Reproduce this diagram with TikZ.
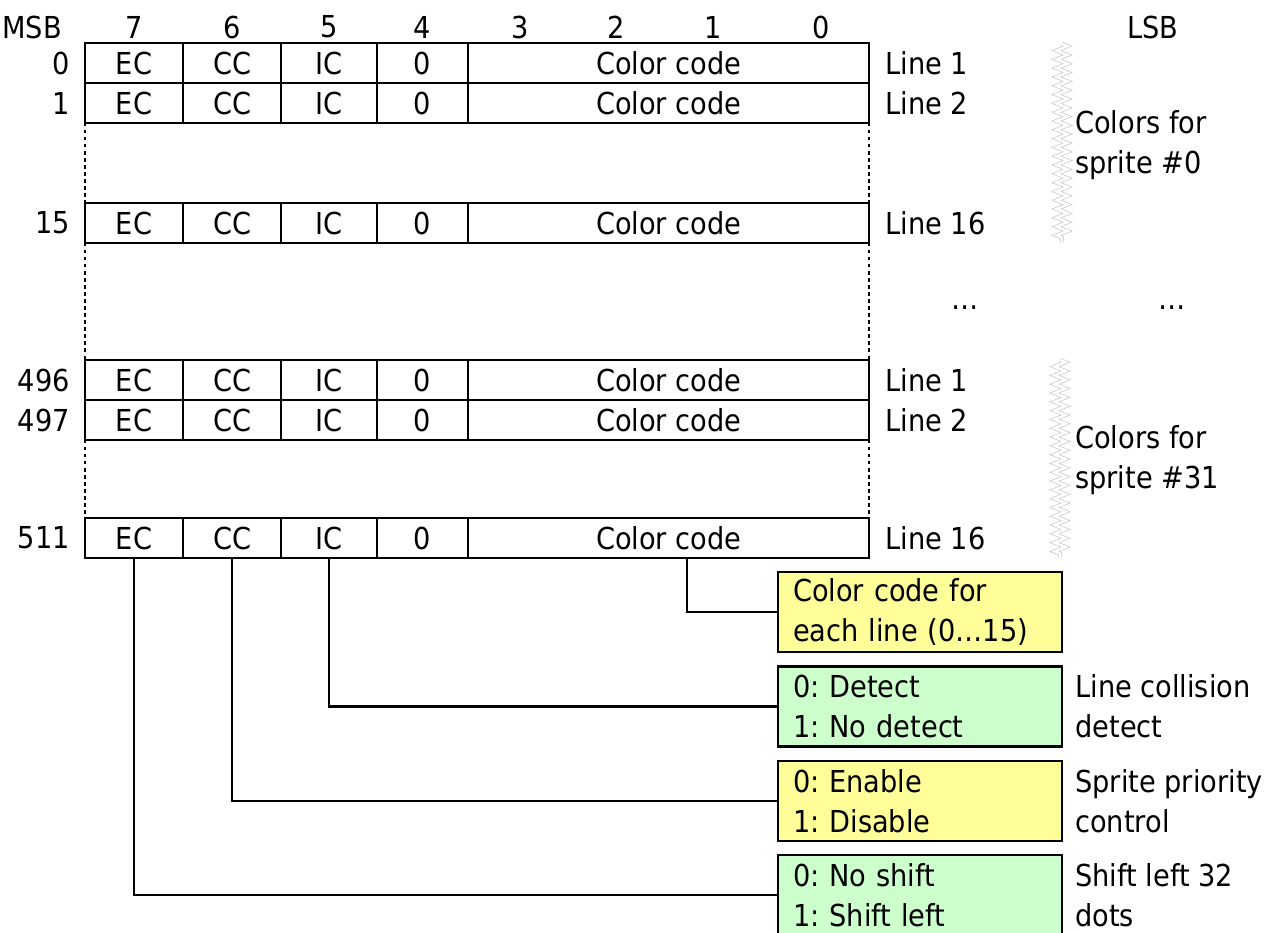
\documentclass[tikz,border=0pt]{standalone}
\usepackage{fontspec}
\setmainfont{DejaVu Sans Condensed}
\usepackage{xcolor}
\usetikzlibrary{positioning,decorations.pathmorphing}
\definecolor{boxyellow}{RGB}{255,255,153}
\definecolor{boxgreen}{RGB}{204,255,204}
\definecolor{zigzaggray}{RGB}{200,200,200}
\frenchspacing

\tikzset{
  cell/.style={draw,line width=1.6pt,outer sep=0pt,inner sep=0pt,minimum height=1cm},
  dotbord/.style={line width=1.6pt,dash pattern=on 2.4pt off 2.6pt},
  wire/.style={line width=1.6pt},
  infobox/.style={draw,line width=1.6pt,outer sep=0pt,inner xsep=0.375cm,inner ysep=0pt,
    minimum height=2cm,text width=6.35cm,align=left},
  label txt/.style={inner sep=0pt,align=left},
  spritebrace/.style={zigzaggray,line width=0.5pt,double=white,double distance=1.8pt,
    decorate,decoration={zigzag,segment length=0.22cm,amplitude=0.14cm}}
}

\begin{document}
\begin{tikzpicture}[x=0.025cm,y=-0.025cm,font=\fontsize{21.5}{28.5}\selectfont]
  \useasboundingbox (0,0) rectangle (1286,932);
  \clip (0,0) rectangle (1286,932);
  % bit numbers
  \node (msb) at (32,27) {MSB};
  \node (lsb) at (1153,27) {LSB};
  \foreach \x/\b in {134/7,232/6,329/5,422/4,520/3,616/2,713/1,821/0}
    \node (bit\b) at (\x,27) {\b};
  % table rows
  \foreach \ytop/\addr/\lname/\id in {43/0/Line 1/a,83/1/Line 2/b,203/15/Line 16/c,
                                      360/496/Line 1/d,400/497/Line 2/e,518/511/Line 16/f} {
    \node[cell,minimum width=2.45cm,anchor=north west] (ec\id) at (85,\ytop) {EC};
    \node[cell,minimum width=2.45cm,right=0pt of ec\id] (cc\id) {CC};
    \node[cell,minimum width=2.4cm,right=0pt of cc\id] (ic\id) {IC};
    \node[cell,minimum width=2.275cm,right=0pt of ic\id] (zero\id) {0};
    \node[cell,minimum width=10.025cm,right=0pt of zero\id] (code\id) {Color code};
    \node[label txt,anchor=east,left=0.375cm of ec\id] (addr\id) {\addr};
    \node[label txt,anchor=west,right=0.4cm of code\id] (line\id) {\lname};
  }
  % omitted rows
  \draw[dotbord] (ecb.south west) -- (ecc.north west);
  \draw[dotbord] (codeb.south east) -- (codec.north east);
  \draw[dotbord] (ecc.south west) -- (ecd.north west);
  \draw[dotbord] (codec.south east) -- (coded.north east);
  \draw[dotbord] (ece.south west) -- (ecf.north west);
  \draw[dotbord] (codee.south east) -- (codef.north east);
  \node (dotsa) at (965,308) {…};
  \node (dotsb) at (1172,308) {…};
  % sprite groups
  \draw[spritebrace] (1062,44) -- (1062,242);
  \draw[spritebrace] (1060,360) -- (1060,557);
  \node[label txt,anchor=west] (sprite0) at (1075,145) {Colors for\\sprite \#0};
  \node[label txt,anchor=west] (sprite31) at (1075,460) {Colors for\\sprite \#31};
  % bit meanings
  \node[infobox,fill=boxyellow,anchor=north west] (codebox) at (778,572)
       {Color code for\\each line (0…15)};
  \node[infobox,fill=boxgreen,below=0.36cm of codebox] (icbox) {0: Detect\\1: No detect};
  \node[infobox,fill=boxyellow,below=0.36cm of icbox] (ccbox) {0: Enable\\1: Disable};
  \node[infobox,fill=boxgreen,below=0.36cm of ccbox] (ecbox) {0: No shift\\1: Shift left};
  \node[label txt,right=0.325cm of icbox] (icdesc) {Line collision\\detect};
  \node[label txt,right=0.325cm of ccbox] (ccdesc) {Sprite priority\\control};
  \node[label txt,right=0.325cm of ecbox] (ecdesc) {Shift left 32\\dots};
  % connectors
  \draw[wire] ([xshift=0.46cm]codef.south) |- (codebox.west);
  \draw[wire] (icf.south) |- (icbox.west);
  \draw[wire] (ccf.south) |- (ccbox.west);
  \draw[wire] (ecf.south) |- (ecbox.west);
\end{tikzpicture}
\end{document}
